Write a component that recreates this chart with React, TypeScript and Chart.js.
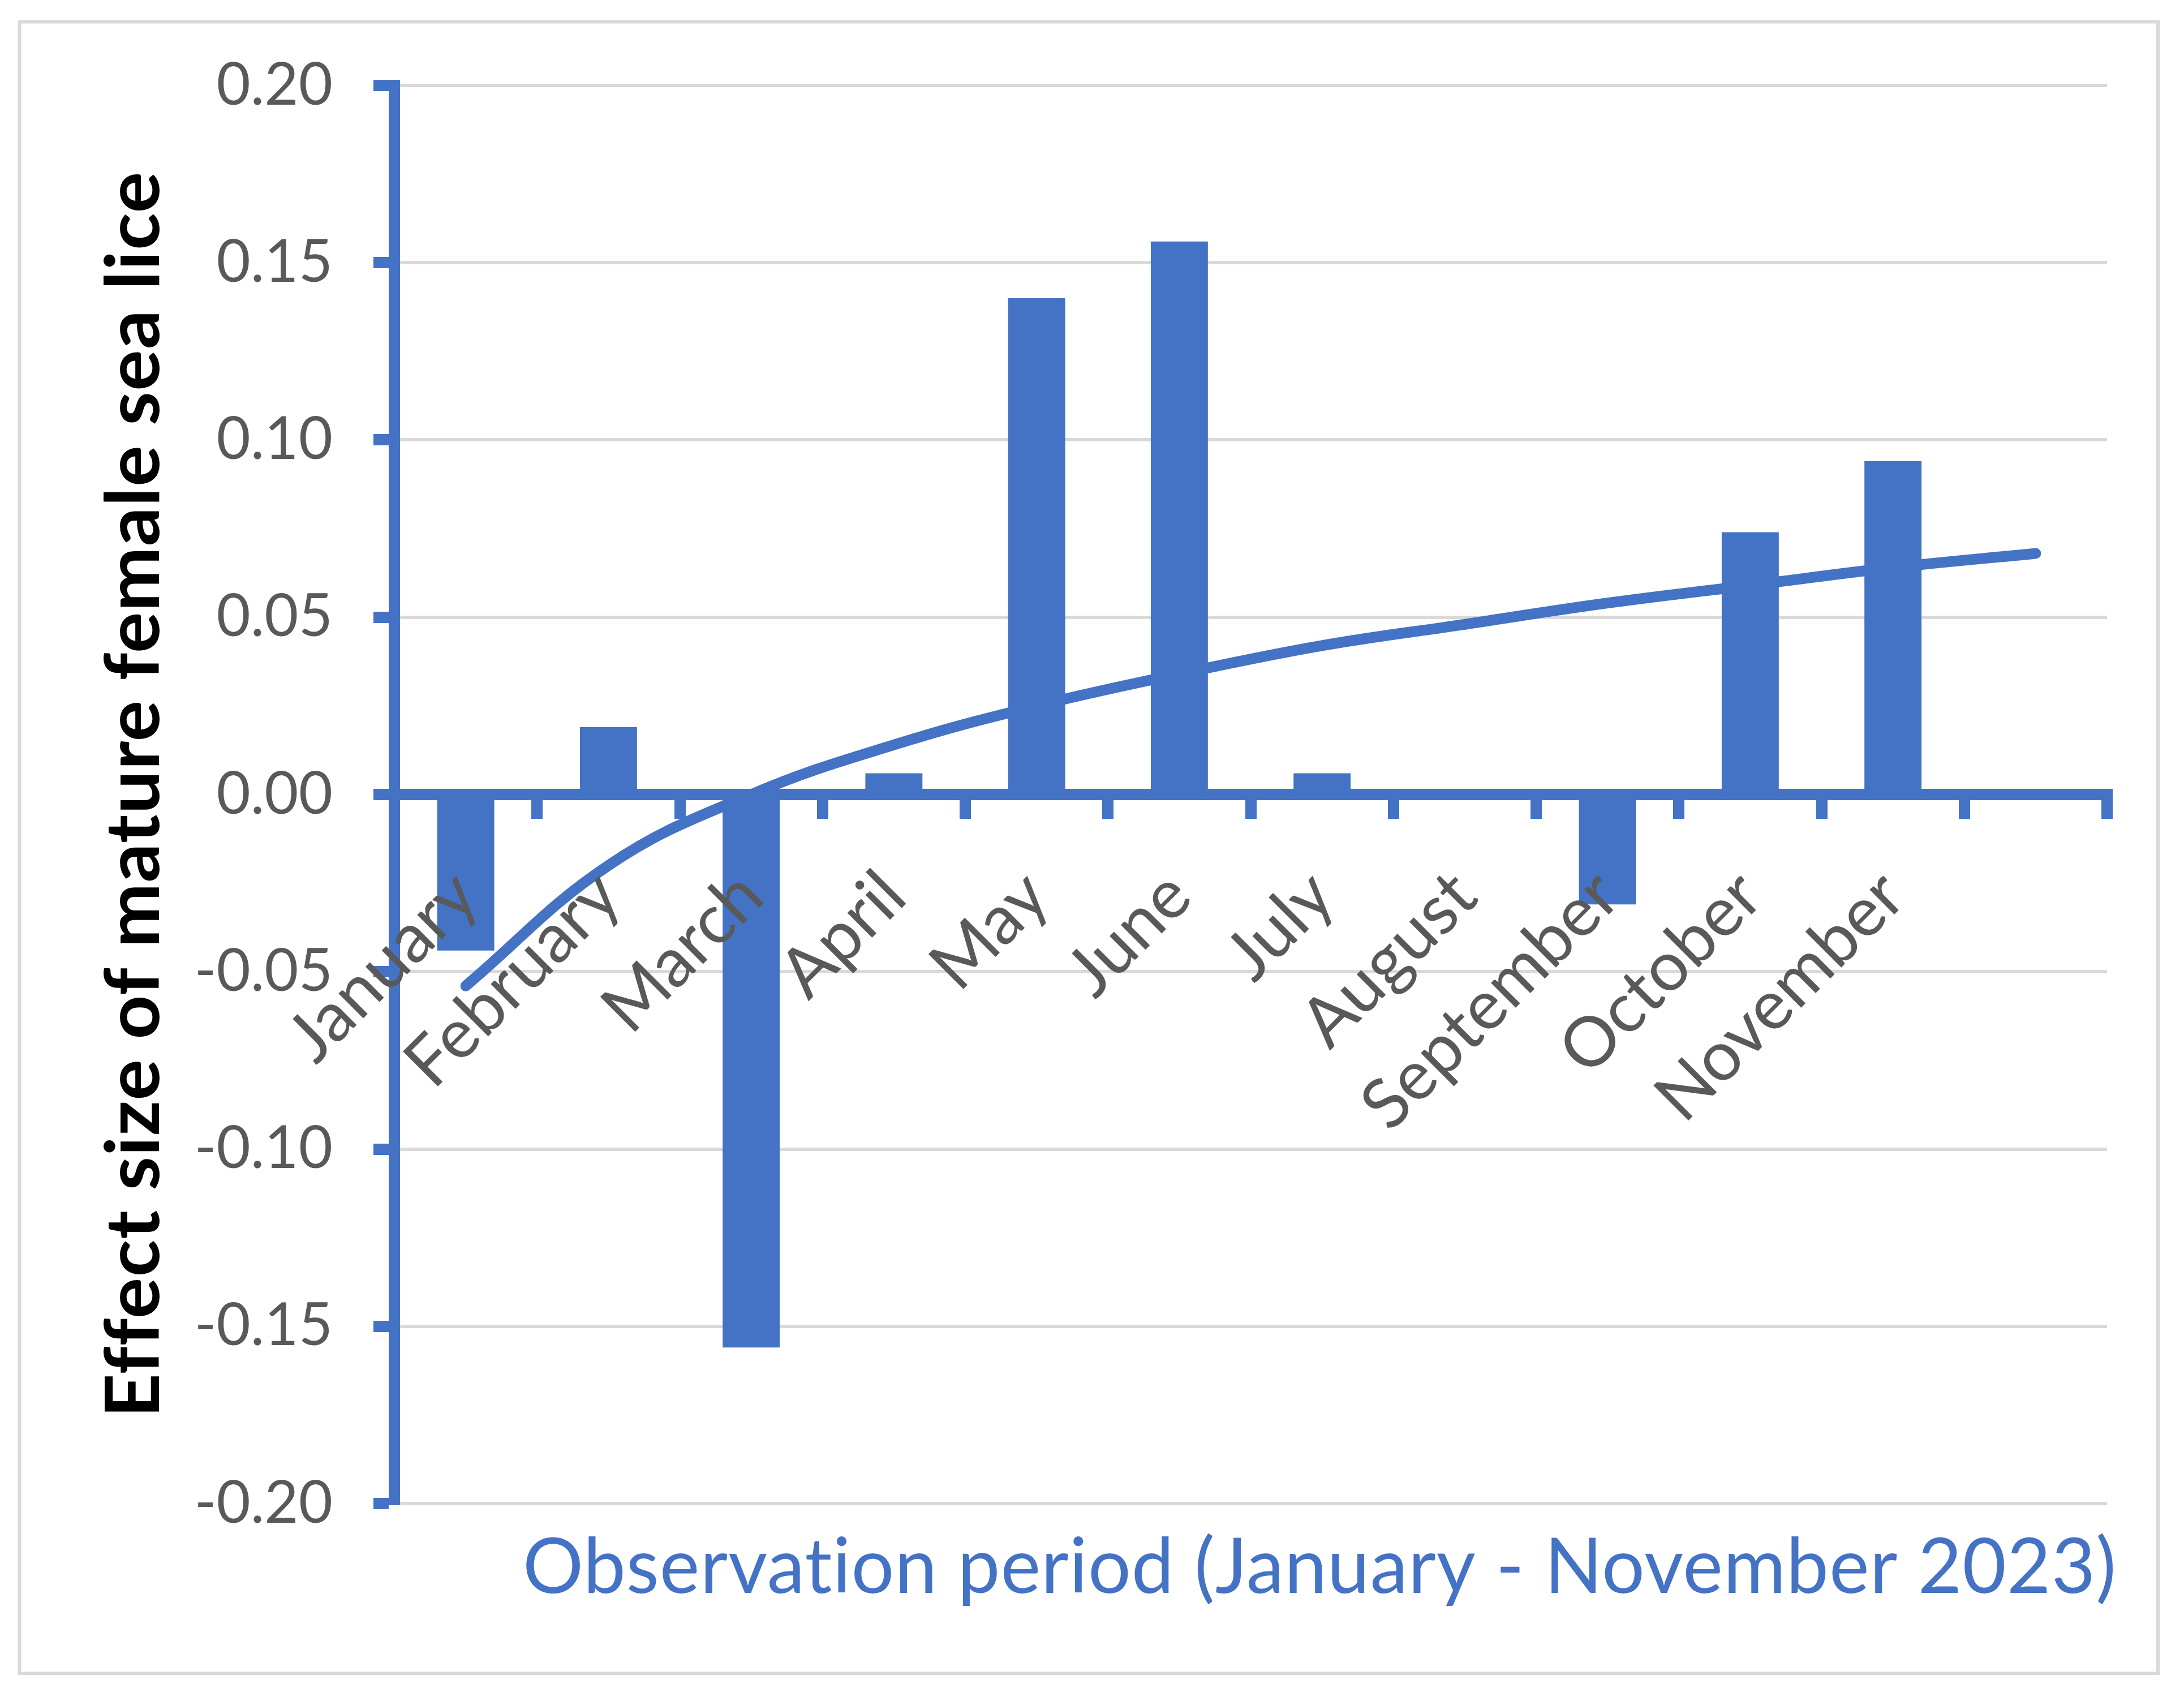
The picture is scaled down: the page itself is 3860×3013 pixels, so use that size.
import React, { useEffect, useRef } from "react";
import { Chart, registerables } from "chart.js";

Chart.register(...registerables);

const categories: string[] = [
  "January", "February", "March", "April", "May", "June",
  "July", "August", "September", "October", "November", "",
];
const effectSize: (number | null)[] = [
  -0.044, 0.019, -0.156, 0.006, 0.14, 0.156, 0.006, 0, -0.031, 0.074, 0.094, null,
];
const trendValues: number[] = [
  -0.054, -0.02, 0.0, 0.014, 0.025, 0.034, 0.042, 0.048, 0.054, 0.059, 0.064, 0.068,
];
const yTitle = "Effect size of mature female sea lice";
const xTitle = "Observation period (January - November 2023)";

const BLUE = "#4472C4";
const GRID = "#D9D9D9";
const LABEL = "#595959";
const FONT = "Lato, 'Open Sans', sans-serif";

const W = 3860;
const H = 3013;

const framePlugin = {
  id: "frameAndTitles",
  beforeDraw(chart: any) {
    const ctx = chart.ctx as CanvasRenderingContext2D;
    ctx.save();
    ctx.fillStyle = "#ffffff";
    ctx.fillRect(0, 0, chart.width, chart.height);
    ctx.strokeStyle = GRID;
    ctx.lineWidth = 6;
    ctx.strokeRect(34.5, 38.5, 3779.5, 2918.5);
    ctx.restore();
  },
  afterDraw(chart: any) {
    const ctx = chart.ctx as CanvasRenderingContext2D;
    const area = chart.chartArea;
    // Y title (rotated)
    ctx.save();
    ctx.font = `bold 132px ${FONT}`;
    (ctx as any).letterSpacing = "1px";
    ctx.fillStyle = "#000000";
    ctx.textAlign = "center";
    ctx.textBaseline = "alphabetic";
    const yw = ctx.measureText(yTitle).width;
    ctx.translate(281, (area.top + area.bottom) / 2);
    ctx.rotate(-Math.PI / 2);
    ctx.scale(2203 / yw, 1);
    ctx.fillText(yTitle, 0, 0);
    ctx.restore();
    // X title
    ctx.save();
    ctx.font = `136px ${FONT}`;
    (ctx as any).letterSpacing = "1px";
    ctx.fillStyle = BLUE;
    ctx.textAlign = "right";
    ctx.textBaseline = "alphabetic";
    const xw = ctx.measureText(xTitle).width;
    ctx.translate(3741, 2815);
    ctx.scale(2817 / xw, 1);
    ctx.fillText(xTitle, 0, 0);
    ctx.restore();
  },
};

export default function App() {
  const ref = useRef<HTMLCanvasElement | null>(null);

  useEffect(() => {
    if (!ref.current) return;
    const chart = new Chart(ref.current, {
      type: "bar",
      data: {
        labels: categories,
        datasets: [
          {
            type: "line",
            label: "Trend",
            data: trendValues,
            borderColor: BLUE,
            borderWidth: 19,
            borderCapStyle: "round",
            borderJoinStyle: "round",
            pointRadius: 0,
            tension: 0.4,
            fill: false,
            order: 1,
          } as any,
          {
            type: "bar",
            label: "Effect size",
            data: effectSize,
            backgroundColor: BLUE,
            borderWidth: 0,
            barPercentage: 0.4,
            categoryPercentage: 1.0,
            order: 2,
          } as any,
        ],
      },
      options: {
        responsive: false,
        animation: false,
        devicePixelRatio: 1,
        layout: { padding: { left: 0, top: 151, right: 136, bottom: 356 } },
        plugins: {
          legend: { display: false },
          tooltip: { enabled: false },
          title: { display: false },
        },
        scales: {
          x: {
            type: "category",
            position: { y: 0 } as any,
            offset: true,
            grid: {
              display: true,
              offset: true,
              drawOnChartArea: false,
              drawTicks: true,
              tickLength: 33,
              tickWidth: 20,
              tickColor: BLUE,
              color: BLUE,
              lineWidth: 20,
            },
            border: { display: true, color: BLUE, width: 20 },
            ticks: {
              autoSkip: false,
              minRotation: 45,
              maxRotation: 45,
              padding: 74,
              z: 2,
              color: LABEL,
              font: { family: FONT, size: 122 },
            },
          },
          y: {
            type: "linear",
            position: "left",
            min: -0.2,
            max: 0.2,
            afterFit: (scale: any) => {
              scale.width = 697;
            },
            grid: {
              color: GRID,
              lineWidth: 6,
              drawTicks: true,
              tickLength: 37,
              tickWidth: 20,
              tickColor: BLUE,
            },
            border: { display: true, color: BLUE, width: 20 },
            ticks: {
              stepSize: 0.05,
              padding: 72,
              color: LABEL,
              font: { family: FONT, size: 104 },
              callback: (v: any) => Number(v).toFixed(2),
            },
          },
        },
      },
      plugins: [framePlugin],
    });
    return () => chart.destroy();
  }, []);

  return (
    <div style={{ position: "fixed", left: 0, top: 0, width: W, height: H, background: "#ffffff" }}>
      <canvas ref={ref} width={W} height={H} style={{ width: W, height: H, display: "block" }} />
    </div>
  );
}
